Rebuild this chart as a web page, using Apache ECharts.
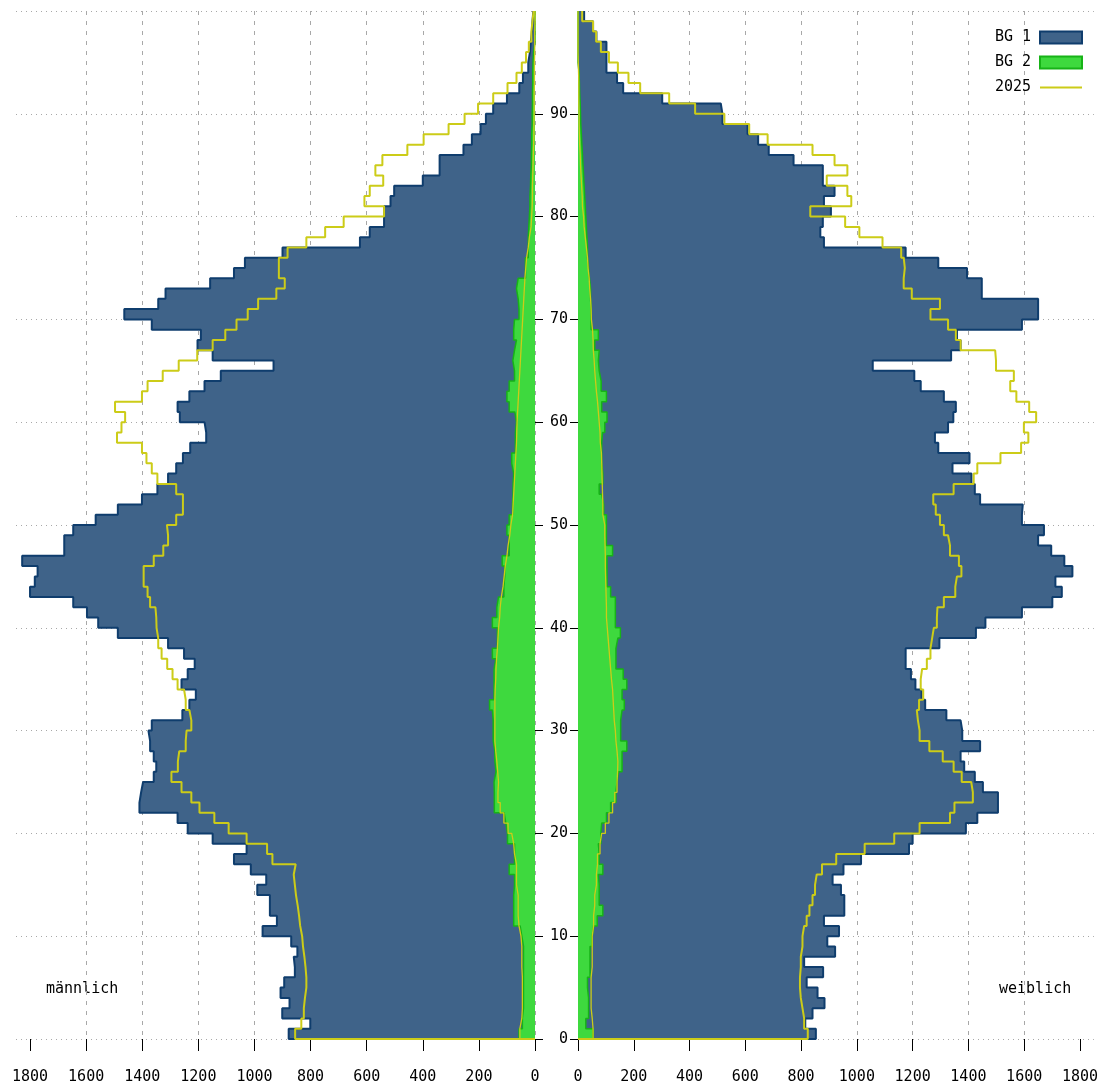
<!DOCTYPE html>
<html><head><meta charset="utf-8">
<script src="https://cdn.jsdelivr.net/npm/echarts@6/dist/echarts.min.js"></script>
<style>html,body{margin:0;padding:0;background:#fff;}#c{width:1101px;height:1090px;}</style>
</head><body><div id="c"></div>
<script>
// ---- data (ages 0..99, one value per single year of age) ----
const ageCats = Array.from({length: 101}, (_, i) => String(i)); // category edges 0..100
const ageTicks = [0, 10, 20, 30, 40, 50, 60, 70, 80, 90];
const gridAgeLines = [0, 10, 20, 30, 40, 50, 60, 70, 80, 90, 100];
const xTicks = [0, 200, 400, 600, 800, 1000, 1200, 1400, 1600, 1800];

const maleBG1 = [878,801,901,875,907,894,856,860,847,869,
  971,920,945,945,990,958,1013,1073,1028,1149,
  1238,1274,1410,1404,1397,1359,1350,1359,1372,1378,
  1366,1257,1232,1209,1260,1238,1213,1251,1308,1487,
  1557,1597,1646,1800,1783,1773,1828,1678,1678,1646,
  1566,1487,1401,1346,1308,1279,1255,1229,1172,1178,
  1266,1274,1232,1178,1120,932,1149,1203,1191,1366,
  1464,1343,1317,1158,1073,1034,900,624,589,538,
  538,515,502,400,340,340,255,225,194,175,
  149,100,56,43,24,18,15,11,9,6];
const maleBG2 = [57,45,41,41,41,41,41,41,41,47,
  53,76,76,76,73,73,92,73,73,98,
  104,110,145,145,146,139,143,143,149,149,
  149,152,162,146,146,146,139,152,134,134,
  152,136,130,111,108,108,117,92,92,100,
  92,80,78,78,76,83,83,70,70,66,
  72,92,100,92,73,79,73,66,76,73,
  57,60,66,60,34,34,24,24,22,20,
  18,18,16,15,13,13,12,12,10,10,
  9,9,8,8,7,5,0,0,0,0];
const male2025 = [855,833,824,820,815,815,818,822,827,830,
  837,841,846,852,856,860,853,936,955,1028,
  1092,1143,1196,1225,1260,1296,1273,1268,1245,1242,
  1225,1232,1245,1251,1274,1292,1311,1331,1343,1349,
  1350,1353,1372,1381,1395,1395,1359,1325,1308,1312,
  1279,1255,1255,1279,1346,1366,1385,1401,1490,1474,
  1461,1497,1401,1381,1327,1270,1204,1149,1104,1064,
  1024,987,922,892,913,913,882,815,748,682,
  538,608,589,541,569,544,455,397,308,251,
  203,149,98,66,47,32,22,13,9,5];
const male2025BG2 = [54,47,45,45,45,45,47,47,47,50,
  57,60,60,60,66,66,66,73,76,83,
  96,111,124,132,130,133,136,140,143,143,
  143,143,143,142,140,139,137,134,132,130,
  126,124,120,114,110,106,100,96,90,86,
  80,78,76,74,72,70,68,66,65,64,
  62,60,58,56,54,52,50,48,46,44,
  42,40,38,36,33,30,24,20,14,12,
  10,9,9,8,7,6,5,4,4,3,
  3,3,2,2,2,1,1,1,0,0];

const femaleBG1 = [853,815,841,884,859,820,879,811,922,894,
  936,882,955,955,943,913,952,1015,1187,1200,
  1391,1432,1506,1506,1452,1423,1385,1372,1442,1378,
  1372,1321,1245,1232,1210,1194,1175,1175,1296,1427,
  1461,1592,1701,1735,1712,1773,1744,1697,1650,1671,
  1592,1595,1442,1423,1411,1343,1404,1292,1280,1327,
  1346,1355,1312,1229,1206,1057,1338,1372,1359,1592,
  1650,1650,1448,1448,1395,1292,1175,882,869,878,
  907,882,920,878,878,773,684,646,608,518,
  512,302,162,140,102,102,102,66,54,22];
const femaleBG2 = [54,28,38,38,34,34,43,43,43,51,
  56,69,89,76,76,73,89,76,73,82,
  85,102,117,136,140,145,158,158,175,153,
  153,158,166,158,175,162,136,136,143,152,
  134,134,134,117,104,104,104,124,102,102,
  102,92,85,76,89,85,85,85,88,96,
  104,85,102,83,76,73,76,60,73,47,
  47,45,45,41,38,34,34,32,30,28,
  26,24,22,20,18,16,14,12,10,9,
  8,6,5,4,0,0,0,0,0,0];
const female2025 = [824,811,805,799,796,796,799,799,805,805,
  811,820,830,841,850,856,875,926,1028,1134,
  1225,1334,1350,1416,1410,1376,1347,1308,1260,1225,
  1219,1215,1223,1238,1229,1234,1251,1264,1270,1276,
  1287,1289,1312,1353,1359,1375,1366,1334,1327,1312,
  1298,1283,1274,1347,1419,1432,1515,1589,1615,1599,
  1643,1618,1572,1550,1563,1499,1496,1372,1355,1327,
  1264,1298,1197,1168,1172,1168,1159,1092,1009,958,
  833,980,966,892,966,920,841,680,614,525,
  420,327,223,181,143,111,82,65,54,15];
const female2025BG2 = [54,51,47,47,47,47,51,51,51,51,
  56,56,60,60,66,66,70,70,79,85,
  98,111,124,132,140,142,143,140,136,134,
  130,128,126,124,120,117,114,111,108,105,
  102,102,101,100,99,98,98,97,96,96,
  89,89,88,87,86,85,84,80,79,76,
  73,70,66,63,60,58,55,54,52,48,
  47,45,42,40,36,34,30,26,22,20,
  16,15,13,11,9,8,6,5,4,4,
  3,3,3,2,1,0,0,0,0,0];

// ---- styling ----
const BLUE = '#3f6389', BLUE_LINE = '#0f3d6d';
const GREEN = '#3ed93e', GREEN_LINE = '#17b317';
const YELLOW = '#cccc18';
const GRID_COLOR = '#a8a8a8';
const FONT = 'DejaVu Sans Mono';

function stepData(vals) { return [0].concat(vals); }

const isAgeTick = (i) => ageTicks.indexOf(i) >= 0;
const isGridLine = (i) => gridAgeLines.indexOf(i) >= 0;

function makeX(gi, inverse) {
  return {
    gridIndex: gi, type: 'value', inverse: inverse, min: 0, max: 1850, interval: 200,
    axisLine: {show: false},
    axisTick: {show: true, length: 12, customValues: xTicks, lineStyle: {color: '#000', width: 1}},
    axisLabel: {customValues: xTicks, margin: 31, color: '#000', fontFamily: FONT, fontSize: 15,
      hideOverlap: false,
      formatter: (v) => (xTicks.indexOf(v) >= 0 ? String(v) : '')},
    splitLine: {show: true, showMaxLine: false, lineStyle: {color: GRID_COLOR, width: 1, type: [4, 6]}}
  };
}
function makeY(gi, pos, showLabel) {
  return {
    gridIndex: gi, type: 'category', data: ageCats, boundaryGap: false, position: pos,
    axisLine: {show: false},
    axisTick: {show: true, length: 8, interval: (i) => isAgeTick(i), lineStyle: {color: '#000', width: 1}},
    axisLabel: {show: showLabel, interval: (i) => isAgeTick(i), margin: 10, color: '#000', fontFamily: FONT, fontSize: 15},
    splitLine: {show: true, interval: (i) => isGridLine(i), lineStyle: {color: GRID_COLOR, width: 1, type: [1, 4]}}
  };
}
function areaSeries(name, vals, gi, fill, stroke, w, z) {
  return {
    name: name, type: 'line', xAxisIndex: gi, yAxisIndex: gi, data: stepData(vals),
    step: 'start', symbol: 'none', clip: false, silent: true, z: z,
    lineStyle: {color: stroke, width: w}, itemStyle: {color: fill},
    areaStyle: {color: fill, opacity: 1}
  };
}
function lineSeries(name, vals, gi, w, z) {
  return {
    name: name, type: 'line', xAxisIndex: gi, yAxisIndex: gi, data: stepData(vals),
    step: 'start', symbol: 'none', clip: false, silent: true, z: z,
    lineStyle: {color: YELLOW, width: w}, itemStyle: {color: YELLOW}
  };
}

const chart = echarts.init(document.getElementById('c'), null, {renderer: 'canvas'});
chart.setOption({
  animation: false,
  backgroundColor: '#fff',
  grid: [
    {left: 16, top: 11, width: 519, bottom: 51},
    {left: 578, top: 11, width: 519, bottom: 51}
  ],
  xAxis: [makeX(0, true), makeX(1, false)],
  yAxis: [makeY(0, 'right', false), makeY(1, 'left', true)],
  legend: {
    orient: 'vertical', right: 13, top: 25, align: 'right',
    itemWidth: 42, itemHeight: 12, itemGap: 10,
    textStyle: {fontFamily: FONT, fontSize: 15, color: '#000', padding: [0, 4, 0, 0]},
    selectedMode: false,
    data: [
      {name: 'BG 1', icon: 'rect', itemStyle: {color: BLUE, borderColor: BLUE_LINE, borderWidth: 2}},
      {name: 'BG 2', icon: 'rect', itemStyle: {color: GREEN, borderColor: GREEN_LINE, borderWidth: 2}},
      {name: '2025', icon: 'path://M0,0L40,0L40,2L0,2Z', itemStyle: {color: YELLOW}}
    ]
  },
  graphic: [
    {type: 'text', left: 46, top: 982, style: {text: 'männlich', font: '15px ' + FONT, fill: '#000'}},
    {type: 'text', left: 999, top: 982, style: {text: 'weiblich', font: '15px ' + FONT, fill: '#000'}}
  ],
  series: [
    areaSeries('BG 1', maleBG1, 0, BLUE, BLUE_LINE, 2, 2),
    areaSeries('BG 1', femaleBG1, 1, BLUE, BLUE_LINE, 2, 2),
    areaSeries('BG 2', maleBG2, 0, GREEN, GREEN_LINE, 1.5, 3),
    areaSeries('BG 2', femaleBG2, 1, GREEN, GREEN_LINE, 1.5, 3),
    lineSeries('2025', male2025, 0, 2, 4),
    lineSeries('2025', female2025, 1, 2, 4),
    lineSeries('2025', male2025BG2, 0, 1.3, 4),
    lineSeries('2025', female2025BG2, 1, 1.3, 4)
  ]
});
</script>
</body></html>
